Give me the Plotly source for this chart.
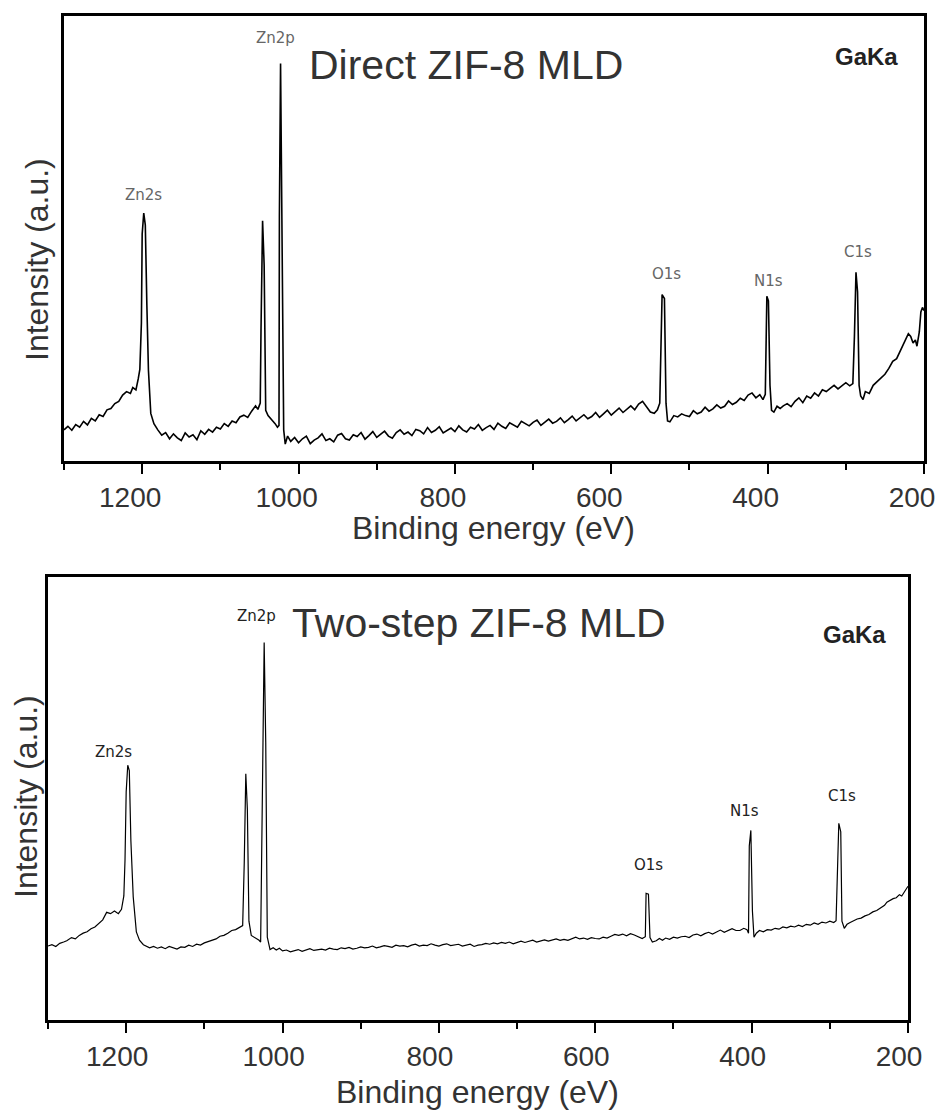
import plotly.graph_objs as go

# Spectrum data (binding energy in eV, intensity in a.u. on a 0-100 scale)
direct_energy = [
    1300, 1295, 1290, 1285, 1280, 1275, 1270, 1265, 1260, 1255, 1250, 1245, 1240, 1235, 1230, 1225,
    1220, 1215, 1212, 1208, 1205, 1203, 1201, 1200, 1198, 1196, 1194, 1192, 1189, 1185, 1180, 1175,
    1170, 1165, 1160, 1155, 1150, 1145, 1140, 1135, 1130, 1125, 1120, 1115, 1110, 1105, 1100, 1095,
    1090, 1085, 1080, 1075, 1070, 1065, 1060, 1055, 1052, 1049, 1048, 1046, 1044, 1042, 1039, 1036,
    1033, 1030, 1027, 1025, 1024.5, 1023, 1021, 1019, 1017, 1014, 1010, 1005, 1000, 995, 990, 985,
    980, 975, 970, 965, 960, 955, 950, 945, 940, 935, 930, 925, 920, 915, 910, 905,
    900, 895, 890, 885, 880, 875, 870, 865, 860, 855, 850, 845, 840, 835, 830, 825,
    820, 815, 810, 805, 800, 795, 790, 785, 780, 775, 770, 765, 760, 755, 750, 745,
    740, 735, 730, 725, 720, 715, 710, 705, 700, 695, 690, 685, 680, 675, 670, 665,
    660, 655, 650, 645, 640, 635, 630, 625, 620, 615, 610, 605, 600, 595, 590, 585,
    580, 575, 570, 565, 560, 555, 550, 545, 541, 538, 535, 532, 530, 528, 525, 520,
    515, 510, 505, 500, 495, 490, 485, 480, 475, 470, 465, 460, 455, 450, 445, 440,
    435, 430, 425, 420, 415, 410, 406, 403, 401, 399, 397, 395, 392, 388, 384, 380,
    375, 370, 365, 360, 355, 350, 345, 340, 335, 330, 325, 320, 315, 310, 305, 300,
    295, 291, 289, 287, 285, 283, 281, 278, 275, 270, 265, 260, 255, 250, 245, 240,
    235, 231, 227, 224, 220, 217, 214, 211, 209, 206, 204, 202, 200,
]
direct_intensity = [
    7.0, 7.8, 6.9, 8.2, 7.6, 8.9, 8.1, 9.6, 9.0, 10.4, 10.0, 11.5, 11.8, 12.9, 13.4, 14.8,
    15.6, 15.2, 16.5, 16.0, 18.5, 20.6, 31.0, 51.0, 55.7, 53.0, 35.0, 20.4, 10.7, 8.4, 7.0, 5.8,
    6.4, 5.0, 6.1, 5.2, 4.6, 6.3, 5.4, 5.9, 4.8, 6.8, 6.0, 7.1, 6.5, 7.6, 7.2, 8.4,
    7.8, 9.0, 8.6, 9.9, 10.3, 9.8, 11.2, 12.4, 11.6, 13.0, 29.7, 54.0, 44.0, 11.4, 10.2, 9.5,
    9.0, 8.4, 7.6, 8.0, 55.0, 89.3, 53.0, 7.0, 3.8, 5.6, 4.4, 5.3, 4.1, 5.0, 5.6, 3.9,
    4.7, 5.2, 6.1, 4.6, 5.0, 4.3, 5.8, 6.2, 5.0, 4.7, 5.9, 5.5, 6.4, 4.9, 5.7, 6.6,
    5.3, 5.9, 6.7, 5.6, 5.1, 6.4, 7.0, 6.0, 6.5, 5.7, 7.1, 6.8, 6.1, 7.5, 6.4, 6.9,
    7.7, 6.3, 6.8, 7.4, 6.6, 7.9, 7.0, 6.5, 7.6, 7.2, 8.2, 6.9, 7.5, 8.0, 7.1, 8.5,
    7.8, 7.3, 8.6, 8.1, 7.6, 8.9, 8.3, 7.9, 8.7, 9.2, 8.0, 8.6, 9.4, 8.5, 8.9, 9.7,
    8.6, 9.3, 10.1, 9.0, 9.6, 10.4, 9.5, 10.0, 10.9, 9.8, 10.6, 11.4, 10.3, 11.1, 11.9, 10.9,
    11.6, 12.4, 11.5, 12.8, 13.4, 12.2, 11.0, 10.7, 11.5, 13.0, 37.4, 36.5, 13.0, 9.0, 8.8, 10.2,
    9.9, 10.6, 10.2, 10.0, 11.3, 10.6, 11.0, 12.1, 11.2, 11.7, 12.6, 11.9, 12.3, 13.5, 12.7, 13.2,
    14.1, 13.6, 14.8, 15.3, 14.2, 14.9, 13.8, 15.0, 37.0, 36.0, 17.0, 11.4, 11.0, 12.3, 11.8, 12.4,
    12.9, 12.2, 13.4, 14.2, 13.1, 14.6, 14.1, 15.3, 14.6, 16.0, 15.6, 16.3, 17.0, 16.2, 16.9, 17.6,
    16.9, 17.4, 28.0, 42.4, 38.0, 17.0, 14.6, 13.8, 15.6, 15.2, 17.0, 17.8, 18.6, 19.5, 20.8, 22.4,
    23.0, 24.5, 25.8, 27.0, 28.6, 28.0, 26.5, 27.2, 25.8, 29.0, 33.5, 34.5, 33.8,
]

twostep_energy = [
    1300, 1295, 1290, 1285, 1280, 1276, 1270, 1265, 1260, 1255, 1250, 1245, 1240, 1235, 1230, 1225,
    1220, 1215, 1210, 1206, 1203, 1201.5, 1200, 1198, 1196, 1194, 1191, 1187, 1183, 1178, 1174, 1170,
    1165, 1160, 1155, 1150, 1145, 1140, 1135, 1130, 1125, 1120, 1115, 1110, 1105, 1100, 1095, 1090,
    1085, 1080, 1075, 1070, 1065, 1060, 1055, 1051, 1049, 1047, 1045, 1043, 1040, 1035, 1030, 1028,
    1026, 1023.5, 1021.5, 1019.5, 1016, 1012, 1008, 1004, 1000, 995, 990, 985, 980, 975, 970, 965,
    960, 955, 950, 945, 940, 935, 930, 925, 920, 915, 910, 905, 900, 895, 890, 885,
    880, 875, 870, 865, 860, 855, 850, 845, 840, 835, 830, 825, 820, 815, 810, 805,
    800, 795, 790, 785, 780, 775, 770, 765, 760, 755, 750, 745, 740, 735, 730, 725,
    720, 715, 710, 705, 700, 695, 690, 685, 680, 675, 670, 665, 660, 655, 650, 645,
    640, 635, 630, 625, 620, 615, 610, 605, 600, 595, 590, 585, 580, 575, 570, 565,
    560, 555, 550, 545, 540, 536, 535, 532, 530, 527, 522, 518, 514, 510, 505, 500,
    495, 490, 485, 480, 475, 470, 465, 460, 455, 450, 445, 440, 435, 430, 425, 420,
    415, 410, 406, 404, 403, 401, 399, 397, 394, 390, 385, 380, 375, 370, 365, 360,
    355, 350, 345, 340, 335, 330, 325, 320, 315, 310, 305, 300, 295, 292, 290.5, 288.5,
    286, 284.5, 281.5, 278, 274, 270, 265, 260, 255, 250, 245, 240, 235, 230, 227, 223,
    219, 215, 211, 208, 205, 202, 200,
]
twostep_intensity = [
    16.7, 17.0, 16.6, 17.3, 17.6, 17.9, 18.6, 18.3, 19.1, 19.6, 19.9, 20.6, 21.0, 21.8, 22.6, 24.3,
    24.0, 24.6, 24.0, 25.0, 28.0, 36.1, 51.5, 57.5, 56.3, 40.5, 27.8, 19.9, 18.0, 17.0, 16.7, 16.3,
    16.6, 16.2, 16.5, 16.1, 16.6, 16.3, 16.0, 16.5, 16.4, 16.9, 16.6, 17.1, 16.9, 17.4, 17.7, 18.0,
    18.3, 18.9, 19.1, 19.6, 20.2, 20.4, 21.0, 21.3, 35.4, 55.6, 47.6, 22.3, 19.1, 18.6, 18.0, 17.6,
    50.4, 85.2, 62.7, 18.7, 15.9, 16.3, 15.8, 16.2, 15.6, 15.8, 15.4, 15.7, 15.9, 15.5, 15.8, 16.1,
    15.7, 15.9, 16.0, 15.8, 16.2, 16.0, 15.9, 16.3, 16.1, 16.4, 16.0, 16.2, 16.5, 16.3, 16.4, 16.7,
    16.3, 16.5, 16.8, 16.6, 16.4, 16.9, 16.7, 16.8, 16.5, 16.9, 17.1, 16.7, 16.9, 16.8, 17.2, 16.9,
    16.7, 17.0, 17.2, 16.8, 16.9, 17.1, 16.7, 16.9, 17.1, 16.6, 16.9, 17.0, 17.3, 17.1, 17.4, 17.2,
    17.5, 17.3, 17.6, 17.2, 17.5, 17.8, 17.5, 17.7, 18.0, 17.6, 17.9, 18.1, 17.8, 18.0, 18.3, 18.0,
    18.2, 18.0, 18.4, 18.7, 18.3, 18.5, 18.2, 18.6, 18.4, 18.3, 18.7, 18.5, 18.9, 19.3, 19.1, 19.4,
    19.0, 19.5, 19.2, 18.8, 18.4, 18.8, 28.6, 28.4, 18.6, 17.6, 17.9, 18.4, 18.0, 18.5, 18.2, 18.7,
    18.5, 18.8, 18.9, 18.6, 19.2, 19.4, 19.0, 19.5, 19.8, 19.4, 19.9, 20.3, 19.8, 20.2, 20.6, 20.2,
    20.2, 20.7, 20.4, 19.6, 39.3, 42.8, 24.6, 18.7, 19.6, 20.2, 19.9, 20.4, 20.3, 20.7, 20.5, 21.0,
    20.8, 21.2, 21.0, 21.4, 21.1, 21.6, 21.4, 21.9, 21.6, 22.1, 21.9, 22.3, 22.0, 22.4, 30.6, 44.4,
    42.5, 22.3, 20.7, 21.6, 22.0, 22.4, 22.8, 23.0, 23.5, 23.8, 24.4, 24.7, 25.4, 25.9, 26.6, 27.0,
    27.4, 27.6, 28.3, 28.0, 28.9, 29.8, 30.2,
]

# Peak labels: text, energy, label height
direct_peak_text = ["Zn2p", "Zn2s", "O1s", "N1s", "C1s"]
direct_peak_x = [1030, 1198, 530, 399, 284]
direct_peak_y = [95, 59.8, 42, 40.4, 46.9]

twostep_peak_text = ["Zn2p", "Zn2s", "O1s", "N1s", "C1s"]
twostep_peak_x = [1033, 1216, 532, 409, 285]
twostep_peak_y = [91.1, 60.6, 35.1, 47.1, 50.6]

tick_values = [1200, 1000, 800, 600, 400, 200]
tick_labels = ["1200", "1000", "800", "600", "400", "200"]

W, H = 941, 1111
font_family = "Liberation Sans"

data = []
data.append(go.Scatter(x=direct_energy, y=direct_intensity, mode="lines",
                       line={"color": "black", "width": 1.6}, xaxis="x", yaxis="y",
                       showlegend=False))
data.append(go.Scatter(x=twostep_energy, y=twostep_intensity, mode="lines",
                       line={"color": "black", "width": 1.2}, xaxis="x2", yaxis="y2",
                       showlegend=False))


def x_axis(domain, anchor, label_shift):
    return dict(
        domain=domain, anchor=anchor, range=[1300, 200],
        showline=True, linecolor="black", linewidth=2.5, mirror=True,
        ticks="outside", ticklen=10, tickwidth=1.5, tickcolor="black",
        tickvals=tick_values, ticktext=tick_labels,
        minor={"dtick": 100, "tick0": 100, "ticks": "outside", "ticklen": 6,
               "tickwidth": 1.5, "tickcolor": "black"},
        tickfont={"family": font_family, "size": 28, "color": "#333333"},
        ticklabelstandoff=0, ticklabelshift=label_shift,
        showgrid=False, zeroline=False,
    )


def y_axis(domain, anchor):
    return dict(
        domain=domain, anchor=anchor, range=[0, 100],
        showline=True, linecolor="black", linewidth=2.5, mirror=True,
        ticks="", showticklabels=False, showgrid=False, zeroline=False,
    )


layout = go.Layout(
    width=W, height=H, autosize=False,
    margin={"l": 0, "r": 0, "t": 0, "b": 0, "autoexpand": False},
    paper_bgcolor="white", plot_bgcolor="white",
    # labels sit a little left of their ticks in the original
    xaxis=x_axis([64 / W, 924 / W], "y", 12),
    yaxis=y_axis([1 - 461 / H, 1 - 16 / H], "x"),
    xaxis2=x_axis([48 / W, 908 / W], "y2", 9),
    yaxis2=y_axis([1 - 1020 / H, 1 - 577 / H], "x2"),
)

fig = go.Figure(data=data, layout=layout)

# Axis titles
title_font = {"family": font_family, "size": 32, "color": "#333333"}
fig.add_annotation(text="Binding energy (eV)", xref="paper", yref="paper",
                   x=494 / W, y=1 - 528 / H, xanchor="center", yanchor="middle",
                   showarrow=False, font=title_font)
fig.add_annotation(text="Binding energy (eV)", xref="paper", yref="paper",
                   x=477 / W, y=1 - 1092 / H, xanchor="center", yanchor="middle",
                   showarrow=False, font=title_font)
fig.add_annotation(text="Intensity (a.u.)", xref="paper", yref="paper", textangle=-90,
                   x=37 / W, y=1 - 260 / H, xanchor="center", yanchor="middle",
                   showarrow=False, font=title_font)
fig.add_annotation(text="Intensity (a.u.)", xref="paper", yref="paper", textangle=-90,
                   x=26 / W, y=1 - 797 / H, xanchor="center", yanchor="middle",
                   showarrow=False, font=title_font)

# Panel titles and source label
fig.add_annotation(text="Direct ZIF-8 MLD", xref="x", yref="y", x=989, y=89,
                   xanchor="left", showarrow=False,
                   font={"family": font_family, "size": 41, "color": "#333333"})
fig.add_annotation(text="Two-step ZIF-8 MLD", xref="x2", yref="y2", x=991, y=89.6,
                   xanchor="left", showarrow=False,
                   font={"family": font_family, "size": 41, "color": "#333333"})
fig.add_annotation(text="<b>GaKa</b>", xref="x", yref="y", x=274, y=91, showarrow=False,
                   font={"family": font_family, "size": 24, "color": "#222222"})
fig.add_annotation(text="<b>GaKa</b>", xref="x2", yref="y2", x=269, y=87, showarrow=False,
                   font={"family": font_family, "size": 24, "color": "#222222"})

# Peak labels
for t, px, py in zip(direct_peak_text, direct_peak_x, direct_peak_y):
    fig.add_annotation(text=t, xref="x", yref="y", x=px, y=py, showarrow=False,
                       font={"family": "DejaVu Sans", "size": 15, "color": "#666666"})
for t, px, py in zip(twostep_peak_text, twostep_peak_x, twostep_peak_y):
    fig.add_annotation(text=t, xref="x2", yref="y2", x=px, y=py, showarrow=False,
                       font={"family": "DejaVu Sans", "size": 15, "color": "#222222"})

config = {"displayModeBar": False, "responsive": False}
# page body margin / scrollbars would push the figure off the window
page_fix = ("document.documentElement.style.overflow = 'hidden';"
            "document.body.style.overflow = 'hidden';"
            "document.body.style.margin = '0';")
fig.write_html("out.html", config=config, post_script=page_fix)
